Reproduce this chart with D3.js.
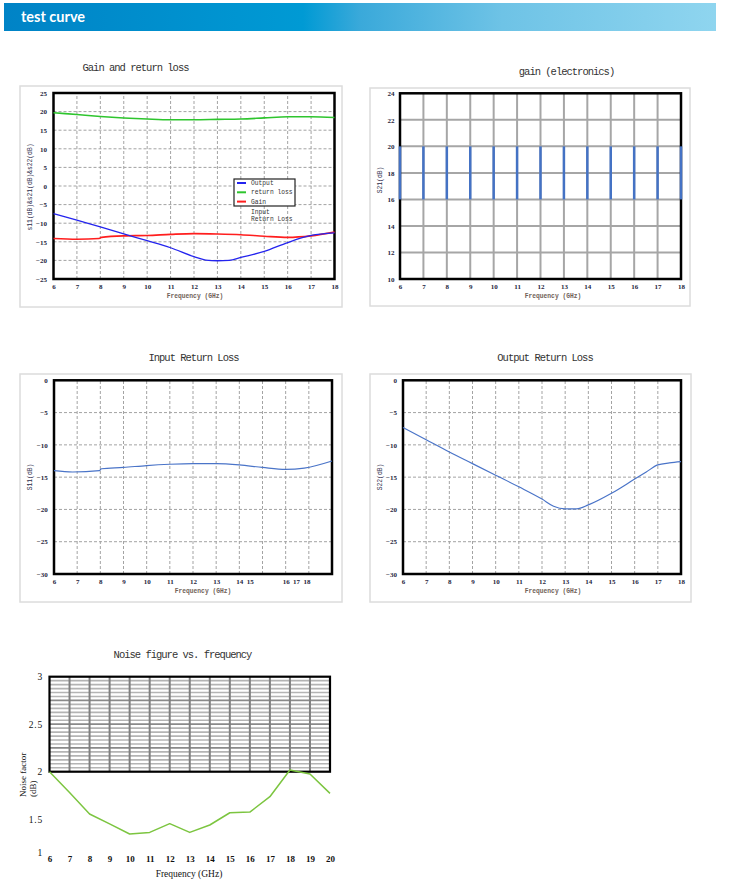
<!DOCTYPE html>
<html><head><meta charset="utf-8">
<script src="https://cdn.jsdelivr.net/npm/d3@7"></script>
<style>
body{margin:0;background:#fff;}
svg{display:block;}
</style></head><body>
<svg id="c" width="737" height="893"></svg>
<script>
// ---------------- DATA ----------------
const headerTitle = "test curve";

// Chart 1: Gain and return loss
const c1Title = "Gain and return loss";
const c1XTicks = [6,7,8,9,10,11,12,13,14,15,16,17,18];
const c1YTicks = [-25,-20,-15,-10,-5,0,5,10,15,20,25];
const c1OutputX = [6,7,8,9,10,11,12,12.5,13,13.5,14,15,16,17,18];
const c1OutputY = [-7.4,-9.2,-11.0,-12.9,-14.7,-16.6,-19.0,-19.9,-20.1,-20.0,-19.2,-17.6,-15.2,-13.3,-12.6];
const c1ReturnX = [6,7,8,9,10,11,12,13,14,15,16,17,18];
const c1ReturnY = [19.7,19.2,18.7,18.3,18.0,17.8,17.8,17.9,18.0,18.3,18.6,18.6,18.4];
const c1GainX = [6,7,7.95,8.05,9,10,11,12,13,14,15,16,17,18];
const c1GainY = [-14.1,-14.3,-14.1,-13.8,-13.4,-13.3,-13.0,-12.8,-12.9,-13.1,-13.5,-13.8,-13.4,-12.4];
const c1Legend = ["Output","return loss","Gain"];
const c1LegendExtra = ["Input","Return Loss"];
const c1YLabel = "s11(dB)&s21(dB)&s22(dB)";

// Chart 2: gain (electronics)
const c2Title = "gain (electronics)";
const c2XTicks = [6,7,8,9,10,11,12,13,14,15,16,17,18];
const c2YTicks = [10,12,14,16,18,20,22,24];
const c2GainX = [6,7,8,9,10,11,12,13,14,15,16,17,18];
const c2GainLow = [16,16,16,16,16,16,16,16,16,16,16,16,16];
const c2GainHigh = [20,20,20,20,20,20,20,20,20,20,20,20,20];
const c2YLabel = "S21(dB)";

// Chart 3: Input Return Loss
const c3Title = "Input Return Loss";
const c3GridX = [7,8,9,10,11,12,13,14,15,16,17];
const c3XTickLabels = ["6","7","8","9","10","11","12","13","14","15","16","17","18"];
const c3XTickPos = [6,7,8,9,10,11,12,13,14,14.45,16,16.45,16.9];
const c3YTicks = [-30,-25,-20,-15,-10,-5,0];
const c3X = [6,6.8,7.96,8.05,9,10,11,12,13,14,15,16,16.8,18];
const c3Y = [-14.0,-14.2,-14.0,-13.7,-13.5,-13.2,-13.0,-12.9,-12.9,-13.1,-13.5,-13.8,-13.6,-12.5];
const c3YLabel = "S11(dB)";

// Chart 4: Output Return Loss
const c4Title = "Output Return Loss";
const c4XTicks = [6,7,8,9,10,11,12,13,14,15,16,17,18];
const c4YTicks = [-30,-25,-20,-15,-10,-5,0];
const c4X = [6,7,8,9,10,11,12,12.5,13,13.5,14,15,16,16.5,17,17.5,18];
const c4Y = [-7.3,-9.2,-11.1,-12.9,-14.7,-16.5,-18.4,-19.5,-19.9,-19.9,-19.3,-17.5,-15.3,-14.2,-13.1,-12.8,-12.6];
const c4YLabel = "S22(dB)";

// Chart 5: Noise figure vs. frequency
const c5Title = "Noise figure vs. frequency";
const c5XTicks = [6,7,8,9,10,11,12,13,14,15,16,17,18,19,20];
const c5YTickLabels = ["1","1.5","2","2.5","3"];
const c5YTickPos = [1.15,1.5,2,2.5,3];
const c5X = [6,7,8,9,10,11,12,13,14,15,16,17,18,19,20];
const c5Y = [2.0,1.78,1.555,1.45,1.344,1.361,1.453,1.361,1.439,1.568,1.575,1.737,2.018,1.975,1.772];
const c5YLabel = ["Noise factor","(dB)"];
const xLabel = "Frequency (GHz)";

// ---------------- DRAW ----------------
const svg = d3.select("#c");
const defs = svg.append("defs");
const grad = defs.append("linearGradient").attr("id","hdr").attr("x1","0%").attr("x2","100%");
[["0%","#0083c6"],["42%","#009ad4"],["50%","#3aa9da"],["70%","#6ec3e6"],["100%","#8fd5ef"]]
  .forEach(([o,c])=>grad.append("stop").attr("offset",o).attr("stop-color",c));
svg.append("rect").attr("x",4).attr("y",3).attr("width",712).attr("height",28).attr("fill","url(#hdr)");
svg.append("text").attr("x",21).attr("y",22).text(headerTitle)
  .attr("fill","#fff").attr("font-family","Lato, 'Open Sans', sans-serif").attr("font-weight","bold").attr("font-size",14.5);

const monoFont = "'Liberation Mono', monospace";
const serifFont = "'Liberation Serif', serif";

function title(txt, cx, by){
  svg.append("text").attr("x",cx).attr("y",by).attr("text-anchor","middle").text(txt)
    .attr("font-family",monoFont).attr("font-size",10.5).attr("letter-spacing",-1).attr("fill","#333");
}
function outerBox(x,y,w,h){
  svg.append("rect").attr("x",x).attr("y",y).attr("width",w).attr("height",h)
    .attr("fill","none").attr("stroke","#dcdcdc").attr("stroke-width",1.5);
}
function styleTicks(g, size, bold){
  g.select(".domain").remove();
  g.selectAll(".tick line").remove();
  g.selectAll("text").attr("font-family",serifFont).attr("font-size",size)
    .attr("font-weight",bold?"bold":"normal").attr("fill","#1e1e3c");
}
function frame(x, y, color, w){
  const [x0,x1] = x.range(), [y0,y1] = y.range();
  svg.append("rect").attr("x",x0).attr("y",y1).attr("width",x1-x0).attr("height",y0-y1)
    .attr("fill","none").attr("stroke",color||"#000").attr("stroke-width",w||2.5);
}
function vGrid(x, y, vals, stroke, sw, dash){
  const [y0,y1] = y.range();
  svg.append("g").selectAll("line").data(vals).join("line")
    .attr("x1",d=>x(d)).attr("x2",d=>x(d)).attr("y1",y0).attr("y2",y1)
    .attr("stroke",stroke).attr("stroke-width",sw).attr("stroke-dasharray",dash||null);
}
function hGrid(x, y, vals, stroke, sw, dash){
  const [x0,x1] = x.range();
  svg.append("g").selectAll("line").data(vals).join("line")
    .attr("y1",d=>y(d)).attr("y2",d=>y(d)).attr("x1",x0).attr("x2",x1)
    .attr("stroke",stroke).attr("stroke-width",sw).attr("stroke-dasharray",dash||null);
}
function smallLabel(txt, x, y, rot, anchor){
  const t = svg.append("text").attr("transform",`translate(${x},${y}) rotate(${rot||0})`)
    .attr("text-anchor",anchor||"middle").attr("dominant-baseline","middle").text(txt)
    .attr("font-family",monoFont).attr("font-size",6.3).attr("font-weight","bold").attr("fill","#6f6258");
  return t;
}
function line(x,y,xs,ys,color,w,curve){
  svg.append("path").datum(xs.map((d,i)=>[d,ys[i]]))
    .attr("d",d3.line().x(d=>x(d[0])).y(d=>y(d[1])).curve(curve||d3.curveMonotoneX))
    .attr("fill","none").attr("stroke",color).attr("stroke-width",w).attr("stroke-linejoin","round");
}

// ---- Chart 1 ----
title(c1Title, 135.5, 70.5);
outerBox(20,86,322,221);
{
  const x = d3.scaleLinear([6,18],[53.5,334.5]);
  const y = d3.scaleLinear([-25,25],[279,93]);
  vGrid(x,y,c1XTicks.slice(1,-1),"#a3a3a3",1,"3,2");
  hGrid(x,y,c1YTicks.slice(1,-1),"#a3a3a3",1,"3,2");
  frame(x,y);
  line(x,y,c1ReturnX,c1ReturnY,"#2ec52e",1.6);
  line(x,y,c1GainX,c1GainY,"#ff1e1e",1.6);
  line(x,y,c1OutputX,c1OutputY,"#2424ee",1.3);
  const gy = svg.append("g").attr("transform",`translate(${x.range()[0]},0)`)
    .call(d3.axisLeft(y).tickValues(c1YTicks).tickSize(0).tickPadding(6.5));
  styleTicks(gy,7,true);
  const gx = svg.append("g").attr("transform",`translate(0,${y.range()[0]})`)
    .call(d3.axisBottom(x).tickValues(c1XTicks).tickSize(0).tickPadding(5));
  styleTicks(gx,7,true);
  smallLabel(xLabel, 195, 296.5);
  smallLabel(c1YLabel, 30, 187, -90).attr("fill","#2a2a4a").attr("font-weight","normal");
  // legend
  const lg = svg.append("g").attr("transform","translate(234,179)");
  lg.append("rect").attr("width",61).attr("height",27).attr("fill","#fff").attr("stroke","#222").attr("stroke-width",1.2);
  const lc = ["#2424ee","#2ec52e","#ff1e1e"];
  c1Legend.forEach((t,i)=>{
    lg.append("line").attr("x1",3).attr("x2",12).attr("y1",4+i*9.3).attr("y2",4+i*9.3).attr("stroke",lc[i]).attr("stroke-width",2);
    lg.append("text").attr("x",17).attr("y",4.3+i*9.3).attr("dominant-baseline","middle").text(t)
      .attr("font-family",monoFont).attr("font-size",6.3).attr("fill","#333");
  });
  c1LegendExtra.forEach((t,i)=>{
    lg.append("text").attr("x",17).attr("y",33+i*7.5).attr("dominant-baseline","middle").text(t)
      .attr("font-family",monoFont).attr("font-size",6.3).attr("fill","#333");
  });
}

// ---- Chart 2 ----
title(c2Title, 566.5, 74.5);
outerBox(370,88,320,218);
{
  const x = d3.scaleLinear([6,18],[400,681]);
  const y = d3.scaleLinear([10,24],[279,93.3]);
  vGrid(x,y,c2XTicks.slice(1,-1),"#a6a6a6",2);
  hGrid(x,y,c2YTicks.slice(1,-1),"#a6a6a6",2);
  frame(x,y,"#000",2.5);
  svg.append("g").selectAll("line").data(c2GainX).join("line")
    .attr("x1",d=>x(d)).attr("x2",d=>x(d))
    .attr("y1",(d,i)=>y(c2GainLow[i])).attr("y2",(d,i)=>y(c2GainHigh[i]))
    .attr("stroke","#4472c4").attr("stroke-width",2.5);
  const gy = svg.append("g").attr("transform",`translate(${x.range()[0]},0)`)
    .call(d3.axisLeft(y).tickValues(c2YTicks).tickSize(0).tickPadding(5.5));
  styleTicks(gy,7,true);
  const gx = svg.append("g").attr("transform",`translate(0,${y.range()[0]})`)
    .call(d3.axisBottom(x).tickValues(c2XTicks).tickSize(0).tickPadding(5));
  styleTicks(gx,7,true);
  smallLabel(xLabel, 553, 296.5);
  smallLabel(c2YLabel, 380, 180, -90).attr("fill","#2a2a4a").attr("font-weight","normal");
}

// ---- Chart 3 ----
title(c3Title, 193.5, 361);
outerBox(20,374,322,228);
{
  const x = d3.scaleLinear([6,18],[54,332]);
  const y = d3.scaleLinear([-30,0],[574,380.3]);
  vGrid(x,y,c3GridX,"#a3a3a3",1,"3,2");
  hGrid(x,y,c3YTicks.slice(1,-1),"#a3a3a3",1,"3,2");
  frame(x,y);
  line(x,y,c3X,c3Y,"#4a74c8",1.2);
  const gy = svg.append("g").attr("transform",`translate(${x.range()[0]},0)`)
    .call(d3.axisLeft(y).tickValues(c3YTicks).tickSize(0).tickPadding(6.3));
  styleTicks(gy,7,true);
  const gx = svg.append("g").attr("transform",`translate(0,${y.range()[0]})`)
    .call(d3.axisBottom(x).tickValues(c3XTickPos).tickFormat((d,i)=>c3XTickLabels[i]).tickSize(0).tickPadding(5));
  styleTicks(gx,7,true);
  smallLabel(xLabel, 203, 591);
  smallLabel(c3YLabel, 30, 477, -90).attr("fill","#2a2a4a").attr("font-weight","normal");
}

// ---- Chart 4 ----
title(c4Title, 545, 361);
outerBox(370,374,321,228);
{
  const x = d3.scaleLinear([6,18],[403,681]);
  const y = d3.scaleLinear([-30,0],[574,380.3]);
  vGrid(x,y,c4XTicks.slice(1,-1),"#a3a3a3",1,"3,2");
  hGrid(x,y,c4YTicks.slice(1,-1),"#a3a3a3",1,"3,2");
  frame(x,y);
  line(x,y,c4X,c4Y,"#4a74c8",1.2);
  const gy = svg.append("g").attr("transform",`translate(${x.range()[0]},0)`)
    .call(d3.axisLeft(y).tickValues(c4YTicks).tickSize(0).tickPadding(6));
  styleTicks(gy,7,true);
  const gx = svg.append("g").attr("transform",`translate(0,${y.range()[0]})`)
    .call(d3.axisBottom(x).tickValues(c4XTicks).tickSize(0).tickPadding(5));
  styleTicks(gx,7,true);
  smallLabel(xLabel, 553, 591);
  smallLabel(c4YLabel, 380, 477, -90).attr("fill","#2a2a4a").attr("font-weight","normal");
}

// ---- Chart 5 ----
title(c5Title, 182.5, 658);
{
  const x = d3.scaleLinear([6,20],[49.5,330]);
  const y = d3.scaleLinear([1,3],[866.7,676.7]);
  const xf = d3.scaleLinear([6,20],[49.5,330]);
  const yf = d3.scaleLinear([2,3],[771.7,676.7]);
  const minor = d3.range(1,24).map(i=>2+i/24);
  hGrid(xf,yf,minor.filter((d,i)=>(i+1)%6!==0),"#b4b4b4",1.6);
  hGrid(xf,yf,minor.filter((d,i)=>(i+1)%6===0),"#8a8a8a",1.8);
  vGrid(xf,yf,c5XTicks.slice(1,-1),"#7f7f7f",2);
  frame(xf,yf,"#000",2.2);
  line(x,y,c5X,c5Y,"#7cc540",1.5,d3.curveLinear);
  const gy = svg.append("g").attr("transform",`translate(${x.range()[0]},0)`)
    .call(d3.axisLeft(y).tickValues(c5YTickPos).tickFormat((d,i)=>c5YTickLabels[i]).tickSize(0).tickPadding(6.5));
  styleTicks(gy,9.5,false);
  gy.selectAll("text").attr("letter-spacing",0.8).attr("fill","#111");
  const gx = svg.append("g").attr("transform",`translate(0,856)`)
    .call(d3.axisBottom(x).tickValues(c5XTicks).tickSize(0).tickPadding(0));
  styleTicks(gx,9,true);
  gx.selectAll("text").attr("fill","#111");
  svg.append("text").attr("x",189).attr("y",876.5).attr("text-anchor","middle").text(xLabel)
    .attr("font-family",serifFont).attr("font-size",9.5).attr("fill","#111");
  c5YLabel.forEach((t,i)=>{
    svg.append("text").attr("transform",`translate(${24+i*10},797) rotate(-90)`)
      .attr("text-anchor","start").attr("dominant-baseline","middle").text(t)
      .attr("font-family",serifFont).attr("font-size",9).attr("fill","#111");
  });
}
</script>
</body></html>
